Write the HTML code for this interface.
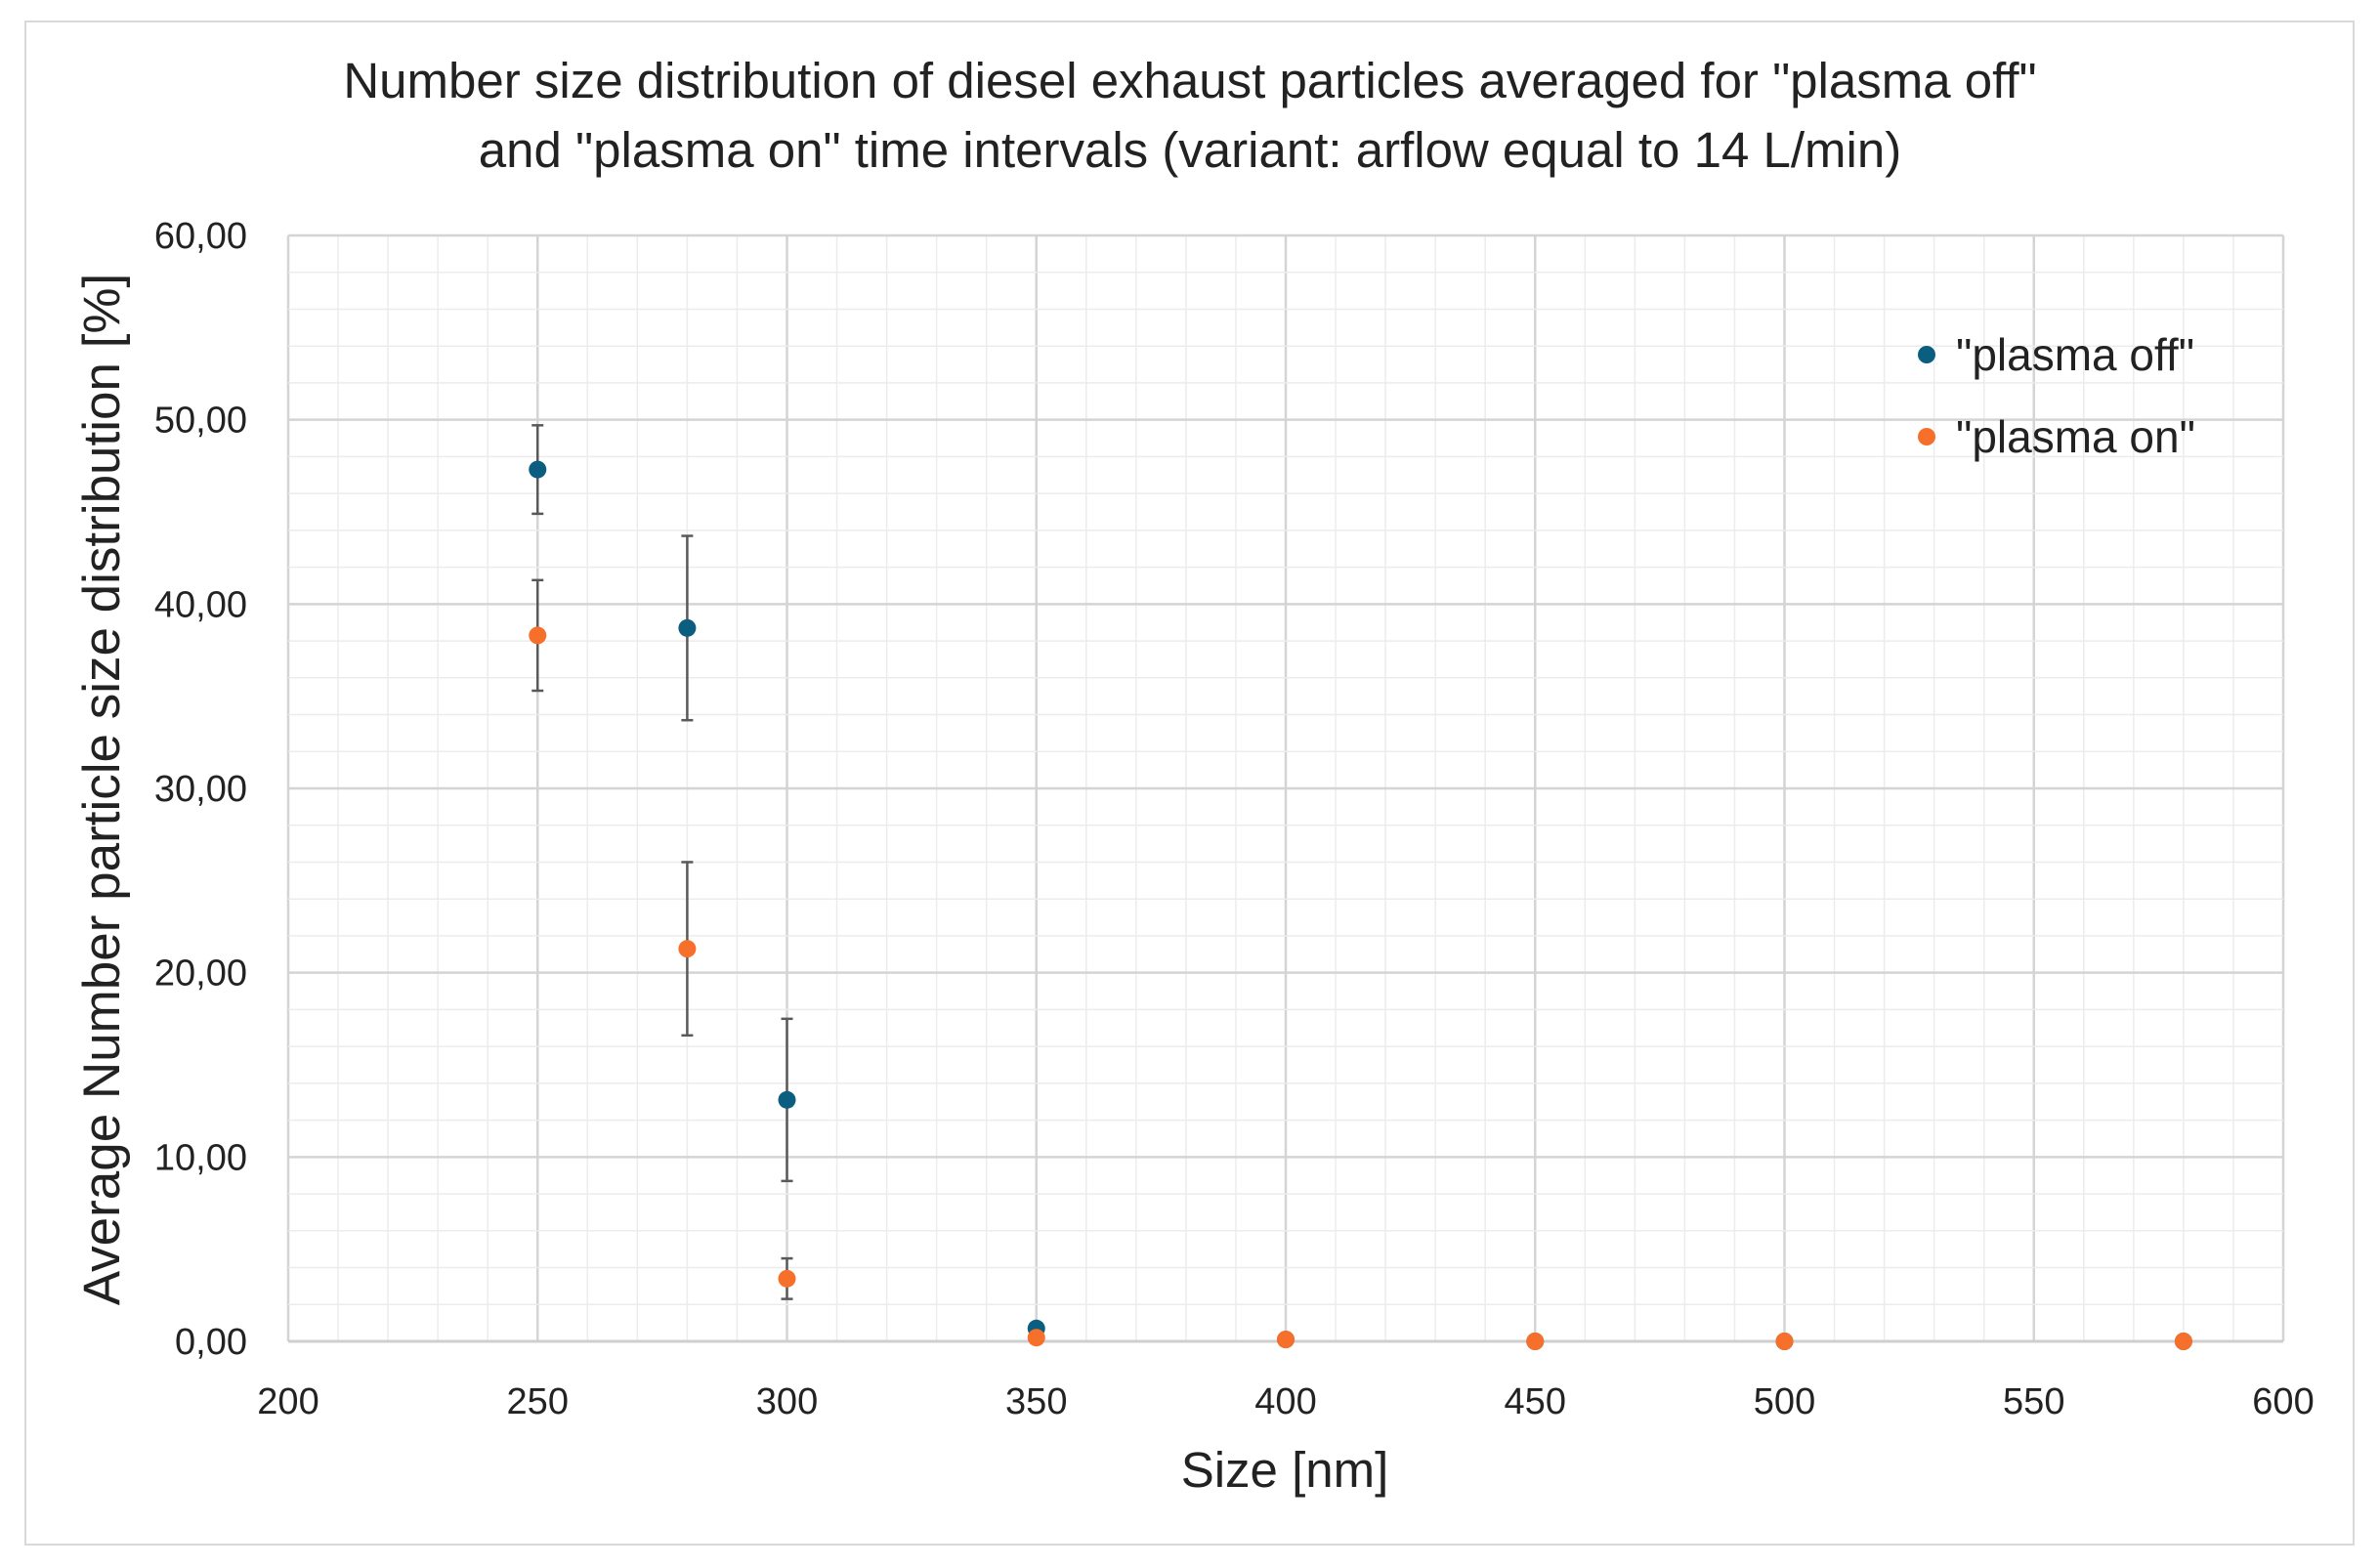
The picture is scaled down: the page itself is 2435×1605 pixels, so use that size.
<!DOCTYPE html>
<html><head><meta charset="utf-8"><style>
html,body{margin:0;padding:0;background:#fff;}
svg{display:block;font-family:"Liberation Sans",sans-serif;}
</style></head><body>
<svg id="chart" width="2435" height="1605" viewBox="0 0 2435 1605">
<rect x="26" y="22" width="2383" height="1559" fill="#fff" stroke="#d9d9d9" stroke-width="2"/>
<text x="1218" y="100" text-anchor="middle" font-size="51" fill="#222">Number size distribution of diesel exhaust particles averaged for "plasma off"</text>
<text x="1218" y="171" text-anchor="middle" font-size="51" fill="#222">and "plasma on"  time intervals (variant: arflow equal to 14 L/min)</text>
<g id="grid"></g><g id="axes"></g><g id="marks"></g>
<text x="1315" y="1522" text-anchor="middle" font-size="51" fill="#222">Size [nm]</text>
<text transform="translate(122,808) rotate(-90)" text-anchor="middle" font-size="53" fill="#222">Average Number particle size distribution [%]</text>
<g>
<circle cx="1972" cy="363" r="9" fill="#0b5e80"/>
<text x="2002" y="379" font-size="46" fill="#222">"plasma off"</text>
<circle cx="1972" cy="447" r="9" fill="#f7702b"/>
<text x="2002" y="463" font-size="46" fill="#222">"plasma on"</text>
</g>
</svg>
<script>
const sizes = [250, 280, 300, 350, 400, 450, 500, 580];
const offValues = [47.3, 38.7, 13.1, 0.7, 0.1, 0.0, 0.0, 0.0];
const offErrors = [2.4, 5.0, 4.4, 0, 0, 0, 0, 0];
const onValues = [38.3, 21.3, 3.4, 0.2, 0.1, 0.0, 0.0, 0.0];
const onErrors = [3.0, 4.7, 1.1, 0, 0, 0, 0, 0];
const xTicks = [200, 250, 300, 350, 400, 450, 500, 550, 600];
const yTicks = ["0,00","10,00","20,00","30,00","40,00","50,00","60,00"];

const NS = "http://www.w3.org/2000/svg";
const L = 295, R = 2337, T = 241, B = 1373;
const xS = v => L + (v - 200) / 400 * (R - L);
const yS = v => B - v / 60 * (B - T);
function mk(tag, attrs, parent) {
  const e = document.createElementNS(NS, tag);
  for (const k in attrs) e.setAttribute(k, attrs[k]);
  parent.appendChild(e); return e;
}
const grid = document.getElementById('grid'), axes = document.getElementById('axes'), marks = document.getElementById('marks');
for (let v = 200; v <= 600; v += 10) {
  const major = v % 50 === 0;
  const ln = mk('line', {x1: xS(v), x2: xS(v), y1: T, y2: B, stroke: major ? '#d4d4d4' : '#ececec', 'stroke-width': major ? 2.5 : 1.5}, grid);
  
  
}
for (let v = 0; v <= 60; v += 2) {
  const major = v % 10 === 0;
  const ln = mk('line', {x1: L, x2: R, y1: yS(v), y2: yS(v), stroke: major ? '#d4d4d4' : '#ececec', 'stroke-width': major ? 2.5 : 1.5}, grid);
  
  
}
const xa = mk('line', {x1: L, x2: R, y1: B, y2: B, stroke: '#cfcfcf', 'stroke-width': 3}, axes);


xTicks.forEach(v => {
  const t = mk('text', {x: xS(v), y: 1447, 'text-anchor': 'middle', 'font-size': 38, fill: '#222'}, axes);
  t.textContent = v;
  
  
});
yTicks.forEach((s, i) => {
  const t = mk('text', {x: 253, y: yS(i * 10) + 13, 'text-anchor': 'end', 'font-size': 38, fill: '#222'}, axes);
  t.textContent = s;
  
  
});
function series(vals, errs, color, name) {
  vals.forEach((v, i) => {
    const x = xS(sizes[i]);
    if (errs[i] > 0) {
      const g = mk('g', {stroke: '#595959', 'stroke-width': 2.5}, marks);
      
      
      mk('line', {x1: x, x2: x, y1: yS(v + errs[i]), y2: yS(v - errs[i])}, g);
      mk('line', {x1: x - 6, x2: x + 6, y1: yS(v + errs[i]), y2: yS(v + errs[i])}, g);
      mk('line', {x1: x - 6, x2: x + 6, y1: yS(v - errs[i]), y2: yS(v - errs[i])}, g);
    }
  });
  vals.forEach((v, i) => {
    const c = mk('circle', {cx: xS(sizes[i]), cy: yS(v), r: 9, fill: color}, marks);
    
    
  });
}
series(offValues, offErrors, '#0b5e80', 'plasma-off');
series(onValues, onErrors, '#f7702b', 'plasma-on');
</script>
</body></html>
